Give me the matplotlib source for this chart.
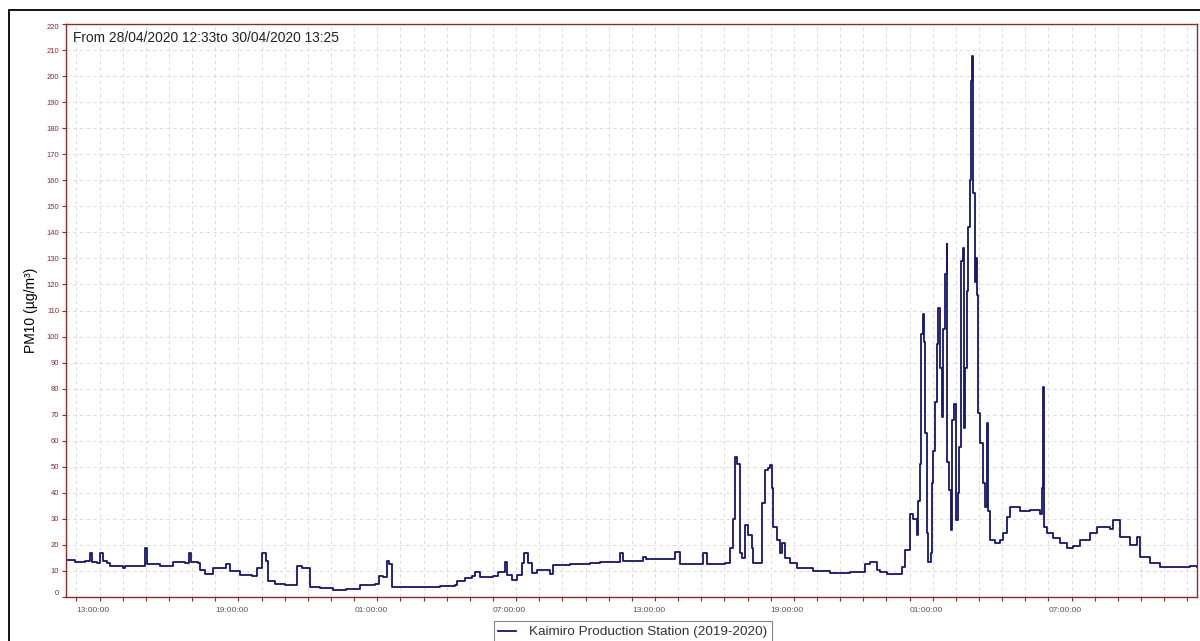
import matplotlib
matplotlib.use("Agg")
import matplotlib.pyplot as plt
import matplotlib.dates as mdates
from matplotlib.patches import Rectangle
import pandas as pd

# hours since 28/04/2020 12:33 and PM10 readings (ug/m3)
hours = [0.00, 0.39, 0.82, 1.04, 1.12, 1.34, 1.47, 1.60, 1.77, 1.90, 2.46, 2.55, 3.20, 3.41, 3.50,
         4.06, 4.62, 5.14, 5.32, 5.40, 5.70, 5.79, 6.01, 6.35, 6.91, 7.09, 7.52, 8.04, 8.25, 8.47,
         8.64, 8.73, 9.03, 9.46, 9.94, 9.98, 10.20, 10.46, 10.54, 10.98, 11.54, 12.10, 12.71, 13.35,
         13.53, 13.70, 13.86, 13.96, 14.09, 14.43, 15.30, 16.16, 16.81, 16.90, 17.24, 17.55, 17.67,
         17.89, 18.45, 18.67, 18.97, 19.06, 19.26, 19.49, 19.69, 19.79, 19.97, 20.14, 20.35, 20.79,
         20.92, 21.05, 21.78, 22.64, 23.08, 23.73, 23.94, 24.07, 24.81, 24.94, 25.07, 26.10, 26.32,
         26.53, 27.40, 27.53, 27.70, 28.48, 28.69, 28.82, 28.91, 29.00, 29.13, 29.23, 29.34, 29.47,
         29.63, 29.69, 29.99, 30.08, 30.21, 30.34, 30.42, 30.50, 30.55, 30.71, 30.86, 30.93, 31.07,
         31.29, 31.59, 32.28, 33.02, 33.88, 34.53, 34.74, 35.03, 35.18, 35.48, 36.04, 36.11, 36.26,
         36.47, 36.60, 36.76, 36.82, 36.91, 36.95, 37.02, 37.08, 37.12, 37.19, 37.22, 37.26, 37.36,
         37.41, 37.48, 37.55, 37.62, 37.69, 37.76, 37.84, 37.91, 37.98, 38.05, 38.08, 38.17, 38.23,
         38.27, 38.39, 38.46, 38.53, 38.59, 38.66, 38.75, 38.81, 38.85, 38.92, 38.99, 39.06, 39.09,
         39.13, 39.19, 39.28, 39.31, 39.37, 39.42, 39.50, 39.64, 39.71, 39.79, 39.84, 39.93, 40.15,
         40.36, 40.49, 40.65, 40.79, 41.23, 41.66, 42.09, 42.18, 42.22, 42.28, 42.38, 42.65, 42.96,
         43.26, 43.52, 43.82, 44.25, 44.56, 45.12, 45.25, 45.56, 45.98, 46.27, 46.41, 46.85, 47.28,
         48.14, 48.57, 48.87]
pm10 = [14.2, 13.5, 14.0, 17.0, 13.5, 13.0, 17.0, 14.0, 13.0, 12.0, 11.0, 12.0, 12.0, 19.0, 12.5,
        12.0, 13.5, 13.0, 17.0, 13.5, 13.0, 10.5, 9.0, 11.0, 12.5, 10.0, 8.5, 8.0, 11.0, 17.0,
        14.0, 6.0, 5.0, 4.6, 4.5, 12.0, 11.0, 11.0, 4.0, 3.5, 2.7, 3.2, 4.5, 5.0,
        8.0, 7.5, 14.0, 12.5, 4.0, 3.8, 3.8, 4.2, 4.6, 6.0, 7.3, 8.0, 9.7,
        7.5, 8.0, 9.5, 13.5, 8.5, 6.5, 8.4, 13.0, 17.0, 13.0, 9.2, 10.3, 10.3,
        9.0, 12.3, 12.5, 13.0, 13.4, 13.5, 17.0, 14.0, 14.0, 15.5, 14.5, 14.5, 17.4,
        12.8, 12.8, 17.0, 12.8, 13.0, 19.0, 30.0, 53.8, 51.0, 17.0, 15.0, 27.6, 24.0,
        19.0, 13.0, 13.0, 36.0, 48.7, 49.5, 50.6, 42.0, 27.0, 22.0, 17.0, 20.7, 15.0,
        13.0, 11.0, 10.0, 9.3, 9.5, 12.5, 13.5, 10.3, 9.5, 9.0, 8.8, 11.6, 18.0,
        32.0, 30.0, 23.8, 37.0, 51.0, 101.0, 108.8, 98.0, 62.8, 50.0, 24.5, 13.5, 16.9,
        43.6, 56.0, 75.0, 97.0, 111.0, 88.0, 69.0, 103.0, 124.0, 135.6, 52.0, 41.0, 25.7,
        67.8, 74.0, 29.5, 40.0, 57.5, 129.0, 134.0, 65.0, 88.0, 117.6, 141.9, 160.0, 198.0,
        207.6, 155.0, 121.0, 130.0, 116.0, 70.5, 59.0, 43.7, 34.5, 66.7, 33.0, 21.8, 20.7,
        21.8, 24.5, 30.7, 34.5, 33.0, 33.5, 32.0, 42.0, 80.5, 26.8, 24.5, 22.5, 20.7,
        18.8, 19.5, 22.0, 24.5, 26.8, 26.0, 29.5, 23.0, 20.0, 23.0, 15.3, 13.0, 11.5,
        11.5, 12.0, 11.5]

# labelled ticks on the time axis
tick_times = ["2020-04-28 13:00", "2020-04-28 19:00", "2020-04-29 01:00", "2020-04-29 07:00",
              "2020-04-29 13:00", "2020-04-29 19:00", "2020-04-30 01:00", "2020-04-30 07:00"]

start = pd.Timestamp("2020-04-28 12:33")
times = start + pd.to_timedelta(hours, unit="h")

title_text = "From 28/04/2020 12:33to 30/04/2020 13:25"
series_name = "Kaimiro Production Station (2019-2020)"

plt.rcParams['font.family'] = ['Liberation Sans', 'DejaVu Sans']
maroon = '#8b2a2a'

fig = plt.figure(figsize=(12, 6.41), dpi=100)
ax = fig.add_axes([0.055, 0.0686, 0.9425, 0.894])

ax.plot(times, pm10, color='#15156e', linewidth=1.3, drawstyle='steps-post',
        label=series_name)

ax.set_xlim(times[0], times[-1])
ax.set_ylim(0, 220)
ax.set_yticks(range(0, 221, 10))

ax.set_xticks(pd.to_datetime(tick_times))
ax.xaxis.set_minor_locator(mdates.HourLocator())
ax.xaxis.set_major_formatter(mdates.DateFormatter('%H:%M:%S'))

ax.tick_params(axis='y', which='both', labelsize=5.5, labelcolor=maroon, color=maroon,
               length=3, width=0.8, pad=2)
ax.tick_params(axis='x', which='both', labelsize=6, labelcolor='#555555', color=maroon,
               length=3, width=0.8, pad=4)
for lbl in ax.get_xticklabels():
    lbl.set_horizontalalignment('left')

for s in ax.spines.values():
    s.set_color(maroon)
    s.set_linewidth(1.0)

ax.grid(True, which='both', axis='x', color='#d6d6d6', linestyle=(0, (4, 4)), linewidth=0.6)
ax.grid(True, which='major', axis='y', color='#d6d6d6', linestyle=(0, (4, 4)), linewidth=0.6)
ax.set_axisbelow(True)

ax.set_ylabel('PM10 (µg/m³)', fontsize=10, labelpad=6)
ax.text(0.006, 0.988, title_text, transform=ax.transAxes, fontsize=9.9,
        ha='left', va='top', color='#222222')

fig.canvas.draw()
ylabels = ax.get_yticklabels()
ylabels[0].set_verticalalignment('bottom')
ylabels[-1].set_verticalalignment('top')

leg = fig.legend(loc='upper center', bbox_to_anchor=(0.5275, 0.031), fontsize=9.7,
                 frameon=True, fancybox=False, handlelength=1.3, borderpad=0.35,
                 handletextpad=1.0, borderaxespad=0)
leg.get_frame().set_edgecolor('#666666')
leg.get_frame().set_linewidth(0.8)
for t in leg.get_texts():
    t.set_color('#333333')

# outer frame of the exported image
fig.patches.append(Rectangle((0.0075, -0.2), 1.2, 1.1844, transform=fig.transFigure,
                             fill=False, edgecolor='black', linewidth=1.3))

fig.savefig('out.png', dpi=100)
